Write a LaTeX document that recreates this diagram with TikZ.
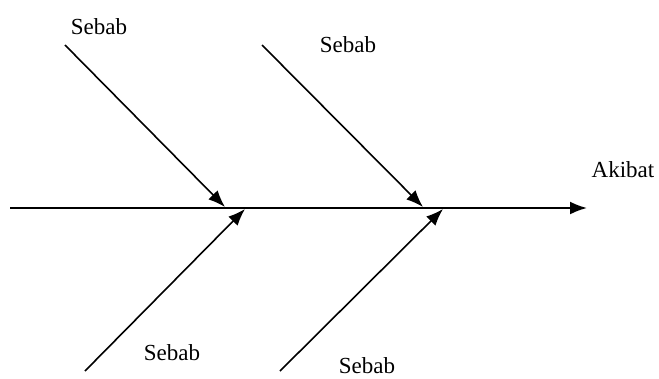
\documentclass[tikz,border=0pt]{standalone}
\usepackage{fontspec}
\setmainfont{Liberation Serif}
\usetikzlibrary{arrows.meta}
\begin{document}
\begin{tikzpicture}[x=1pt,y=-1pt,
        bone/.style={line width=1.6pt,-{Latex[length=17pt,width=13pt]}},
        lbl/.style={font=\fontsize{23}{27}\selectfont,inner sep=0pt}]
    \useasboundingbox (0,0) rectangle (659,378);
    % spine
    \coordinate (tail) at (10,208);
    \coordinate (head) at (587,208);
    \draw[bone,line width=2pt] (tail)--(head);
    \node[lbl] (akibat) at (623,170) {Akibat};
    % upper causes
    \coordinate (ua) at (65,45);
    \coordinate (ua-end) at (225,207);
    \coordinate (ub) at (262,45);
    \coordinate (ub-end) at (423,207);
    \draw[bone] (ua)--(ua-end);
    \draw[bone] (ub)--(ub-end);
    \node[lbl] (sebab-ua) at (99,27) {Sebab};
    \node[lbl] (sebab-ub) at (348,45) {Sebab};
    % lower causes
    \coordinate (la) at (85,371);
    \coordinate (la-end) at (245,209);
    \coordinate (lb) at (280,371);
    \coordinate (lb-end) at (443,209);
    \draw[bone] (la)--(la-end);
    \draw[bone] (lb)--(lb-end);
    \node[lbl] (sebab-la) at (172,353) {Sebab};
    \node[lbl] (sebab-lb) at (367,366) {Sebab};
\end{tikzpicture}
\end{document}
